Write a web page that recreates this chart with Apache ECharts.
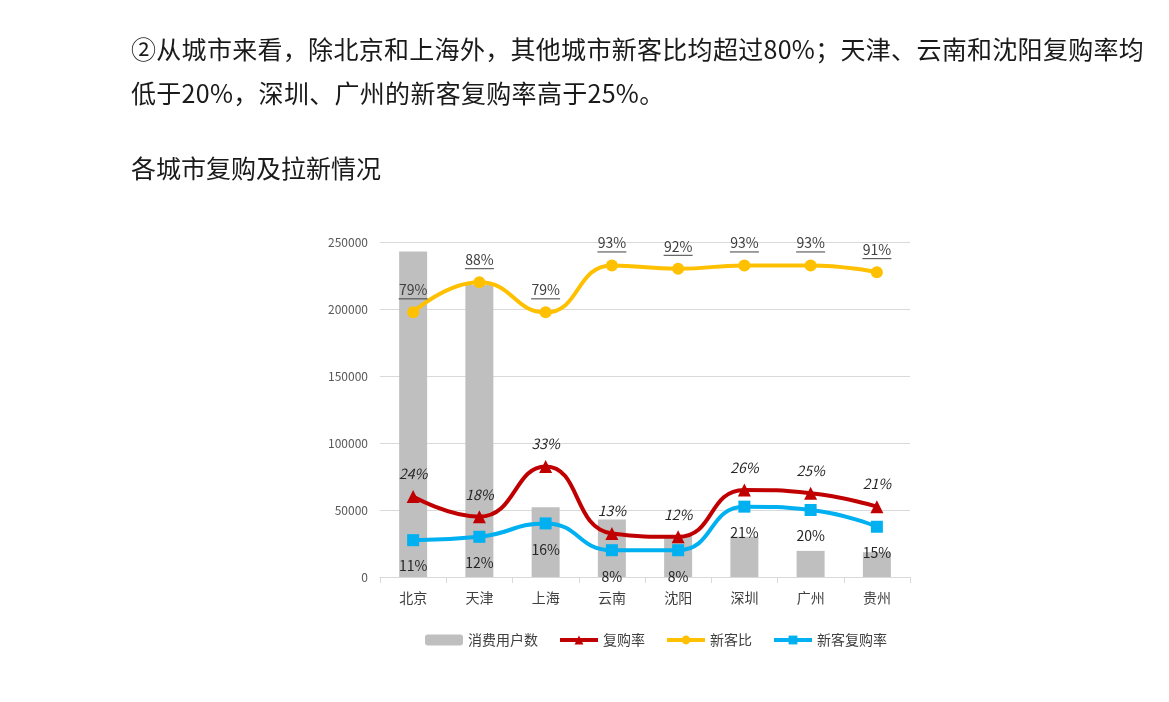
<!DOCTYPE html>
<html lang="zh">
<head>
    <meta charset="UTF-8">
    <title>各城市复购及拉新情况</title>
    <script src="https://cdn.jsdelivr.net/npm/echarts@6/dist/echarts.min.js"></script>
    <style>
        body { margin: 0; background: #fff; font-family: "Noto Sans CJK SC", sans-serif; color: #1a1a1a; }
        #page { position: relative; width: 1169px; height: 702px; overflow: hidden; }
        .text { position: absolute; left: 131px; font-size: 25px; line-height: 44px; z-index: 1; white-space: nowrap; }
        #para { top: 26px; letter-spacing: 0.3px; }
        #title { top: 145px; }
        #chart { position: absolute; left: 0; top: 0; width: 1169px; height: 702px; }
    </style>
</head>
<body>
<div id="page">
    <div id="chart"></div>
    <div class="text" id="para">②从城市来看，除北京和上海外，其他城市新客比均超过80%；天津、云南和沈阳复购率均<br>低于20%，深圳、广州的新客复购率高于25%。</div>
    <div class="text" id="title">各城市复购及拉新情况</div>
</div>

<script type="text/javascript">
    // 数据
    var cities = ['北京', '天津', '上海', '云南', '沈阳', '深圳', '广州', '贵州'];
    var users = [243000, 218000, 52000, 43000, 31000, 30000, 19500, 18500];   // 消费用户数
    var repurchase = [24, 18, 33, 13, 12, 26, 25, 21];                        // 复购率 %
    var newRatio = [79, 88, 79, 93, 92, 93, 93, 91];                          // 新客比 %
    var newRepurchase = [11, 12, 16, 8, 8, 21, 20, 15];                       // 新客复购率 %
    var yTicks = [0, 50000, 100000, 150000, 200000, 250000];

    var myChart = echarts.init(document.getElementById('chart'), null, { renderer: 'canvas' });

    var option = {
        animation: false,
        textStyle: { fontFamily: 'Noto Sans CJK SC' },
        grid: { left: 380, right: 259, top: 242, bottom: 125 },
        legend: {
            left: 420,
            top: 628,
            itemWidth: 38,
            itemHeight: 11,
            itemGap: 20,
            lineStyle: { width: 4 },
            textStyle: { fontSize: 14, color: '#404040' },
            data: ['消费用户数', '复购率', '新客比', '新客复购率']
        },
        xAxis: {
            type: 'category',
            data: cities,
            axisLine: { lineStyle: { color: '#d9d9d9' } },
            axisTick: { show: true, lineStyle: { color: '#d9d9d9' }, length: 6 },
            axisLabel: { color: '#404040', fontSize: 14, margin: 14 }
        },
        yAxis: [
            {
                type: 'value',
                min: yTicks[0],
                max: yTicks[yTicks.length - 1],
                interval: 50000,
                axisLine: { show: false },
                axisTick: { show: false },
                axisLabel: { color: '#595959', fontSize: 12, margin: 12, formatter: function (v) { return String(v); } },
                splitLine: { lineStyle: { color: '#d9d9d9' } }
            },
            {
                type: 'value',
                min: 0,
                max: 100,
                show: false,
                splitLine: { show: false }
            }
        ],
        series: [
            {
                name: '消费用户数',
                type: 'bar',
                data: users,
                barWidth: 28,
                itemStyle: { color: '#bfbfbf' }
            },
            {
                name: '复购率',
                type: 'line',
                yAxisIndex: 1,
                data: repurchase,
                smooth: 0.5,
                symbol: 'triangle',
                symbolSize: 13,
                lineStyle: { width: 4, color: '#c00000' },
                itemStyle: { color: '#c00000' },
                label: {
                    show: true,
                    position: 'top',
                    distance: 9,
                    fontStyle: 'italic',
                    fontSize: 14,
                    color: '#262626',
                    formatter: '{c}%'
                },
                z: 3
            },
            {
                name: '新客比',
                type: 'line',
                yAxisIndex: 1,
                data: newRatio,
                smooth: 0.5,
                symbol: 'circle',
                symbolSize: 12,
                lineStyle: { width: 4, color: '#ffc000' },
                itemStyle: { color: '#ffc000' },
                label: {
                    show: true,
                    position: 'top',
                    distance: 7,
                    formatter: '{a|{c}%}\n{u|}',
                    rich: {
                        a: { fontSize: 14, color: '#404040', align: 'center', lineHeight: 17 },
                        u: { width: 29, height: 1, backgroundColor: '#404040', align: 'center' }
                    }
                },
                z: 3
            },
            {
                name: '新客复购率',
                type: 'line',
                yAxisIndex: 1,
                data: newRepurchase,
                smooth: 0.5,
                symbol: 'rect',
                symbolSize: 12,
                lineStyle: { width: 4, color: '#00b0f0' },
                itemStyle: { color: '#00b0f0' },
                label: {
                    show: true,
                    position: 'bottom',
                    distance: 13,
                    fontSize: 14,
                    color: '#262626',
                    formatter: '{c}%'
                },
                z: 3
            }
        ]
    };

    myChart.setOption(option);
    window.addEventListener('resize', myChart.resize);
</script>
</body>
</html>
